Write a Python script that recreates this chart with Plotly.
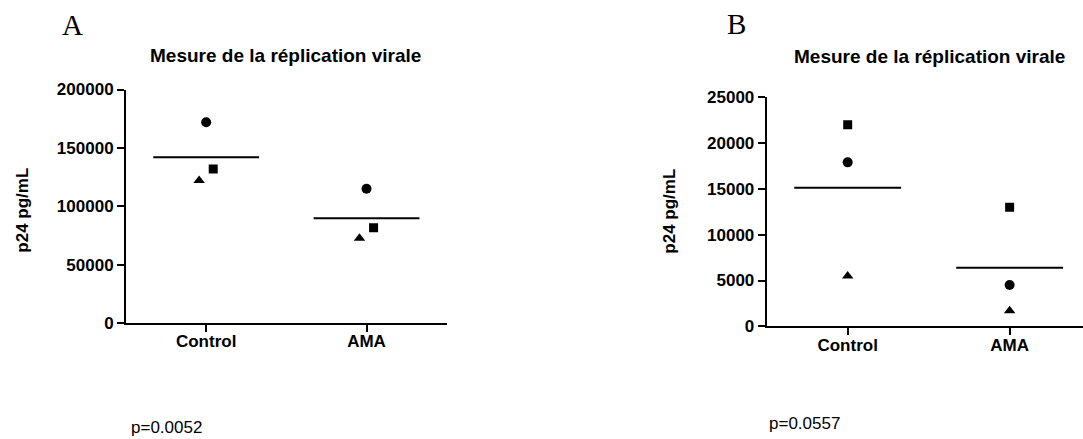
import plotly.graph_objects as go
import numpy as np

W, H = 1083, 439

# ---------------- data ----------------
groups = ["Control", "AMA"]
marker_names = ["circle", "square", "triangle-up"]   # one marker per donor

# values ordered as [circle, square, triangle]
a_control = [172000, 132000, 122000]
a_ama = [115000, 81500, 72500]
b_control = [17900, 22000, 5500]
b_ama = [4500, 13000, 1700]

a_yticks = [0, 50000, 100000, 150000, 200000]
b_yticks = [0, 5000, 10000, 15000, 20000, 25000]

panel_letters = ["A", "B"]
panel_title = "Mesure de la réplication virale"
y_title = "p24 pg/mL"
p_values = ["p=0.0052", "p=0.0557"]

# ---------------- style ----------------
marker_sizes = {"circle": 10, "square": 9, "triangle-up": 10}
jitter_a = {"circle": 0.0, "square": 0.044, "triangle-up": -0.044}
jitter_b = {"circle": 0.0, "square": 0.0, "triangle-up": 0.0}
mean_half = 0.33

FAM = "Liberation Sans, Arial, sans-serif"
BOLD = dict(family=FAM, size=17, color="black", weight="bold")
TITLE = dict(family=FAM, size=19, color="black", weight="bold")
REG = dict(family=FAM, size=17, color="black")
SERIF = dict(family="Liberation Serif, Times New Roman, serif", size=29, color="black")


def px(x):
    return x / W


def py(y):
    return 1 - y / H


fig = go.Figure()


def add_panel(values_by_group, jitter, xa, ya):
    for gi, vals in enumerate(values_by_group):
        for sym, v in zip(marker_names, vals):
            fig.add_trace(go.Scatter(
                x=[gi + jitter[sym]], y=[v], mode="markers",
                marker=dict(symbol=sym, size=marker_sizes[sym], color="black",
                            line=dict(width=0)),
                xaxis=xa, yaxis=ya, showlegend=False, hoverinfo="y"))
        m = float(np.mean(vals))
        fig.add_trace(go.Scatter(
            x=[gi - mean_half, gi + mean_half], y=[m, m], mode="lines",
            line=dict(color="black", width=2),
            xaxis=xa, yaxis=ya, showlegend=False, hoverinfo="y"))


add_panel([a_control, a_ama], jitter_a, "x", "y")
add_panel([b_control, b_ama], jitter_b, "x2", "y2")

axis_common = dict(showline=True, linecolor="black", linewidth=2, ticks="outside",
                   ticklen=7, tickwidth=2, tickcolor="black", showgrid=False,
                   zeroline=False, tickfont=BOLD, fixedrange=True, automargin=False)

fig.update_layout(
    template="none",
    width=W, height=H,
    margin=dict(l=0, r=0, t=0, b=0, pad=0, autoexpand=False),
    paper_bgcolor="white", plot_bgcolor="white",
    xaxis=dict(domain=[px(126), px(446.7)], range=[-0.5, 1.5], tickvals=[0, 1],
               ticktext=groups, anchor="y", ticklabelstandoff=-5, **axis_common),
    yaxis=dict(domain=[py(323), py(89.5)], range=[0, 200000], tickvals=a_yticks,
               ticktext=[str(t) for t in a_yticks], anchor="x", **axis_common),
    xaxis2=dict(domain=[px(766.7), 1.0], range=[-0.5, 1.453], tickvals=[0, 1],
                ticktext=groups, anchor="y2", ticklabelstandoff=-5, **axis_common),
    yaxis2=dict(domain=[py(326.3), py(97.3)], range=[0, 25000], tickvals=b_yticks,
                ticktext=[str(t) for t in b_yticks], anchor="x2", **axis_common),
)

ann = []
# panel letters
ann.append(dict(text=panel_letters[0], x=px(72.5), y=py(25), font=SERIF))
ann.append(dict(text=panel_letters[1], x=px(736.7), y=py(24), font=SERIF))
# titles
ann.append(dict(text=panel_title, x=px(285), y=py(56), font=TITLE))
ann.append(dict(text=panel_title, x=px(929), y=py(57), font=TITLE))
# y axis titles
ann.append(dict(text=y_title, x=px(23), y=py(210.7), font=BOLD, textangle=-90))
ann.append(dict(text=y_title, x=px(670), y=py(211.7), font=BOLD, textangle=-90))
# p values
ann.append(dict(text=p_values[0], x=px(166.7), y=py(439), font=REG, yanchor="bottom"))
ann.append(dict(text=p_values[1], x=px(804), y=py(423), font=REG))

for a in ann:
    a.setdefault("yanchor", "middle")
    a.update(xref="paper", yref="paper", xanchor="center", showarrow=False)
fig.update_layout(annotations=ann)

fig.write_html("out.html",
               config={"displayModeBar": False, "staticPlot": True},
               post_script="document.body.style.margin='0';document.body.style.overflow='hidden';")
